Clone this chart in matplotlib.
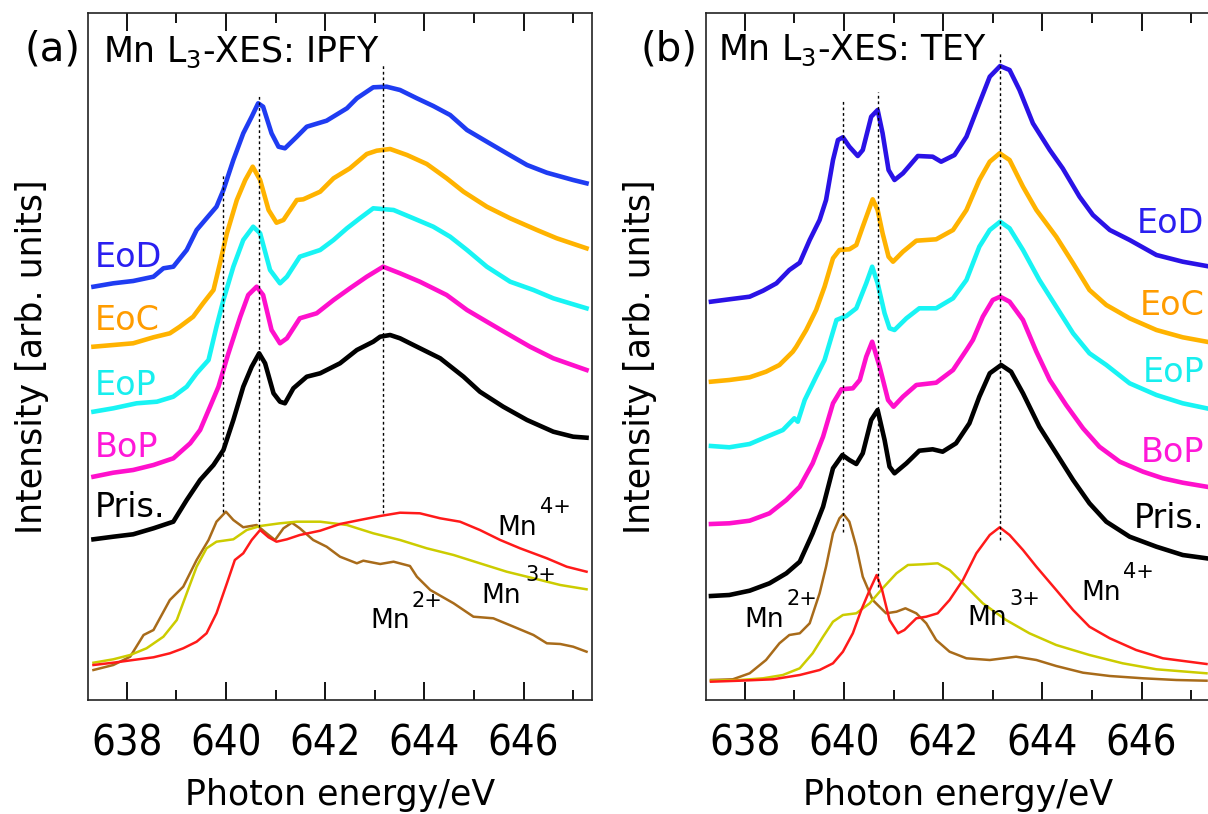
import numpy as np
import matplotlib.pyplot as plt
from matplotlib import font_manager
from matplotlib.ticker import MultipleLocator

# ---------------- panel (a): Mn L3-XES, IPFY ----------------
a_eod_x = [637.33, 637.73, 638.13, 638.54, 638.74, 638.94, 639.21, 639.41, 639.61, 639.81, 639.95, 640.15,
           640.35, 640.52, 640.65, 640.75, 640.92, 641.06, 641.19, 641.43, 641.63, 642.03, 642.44, 642.64,
           642.97, 643.24, 643.51, 643.85, 644.18, 644.52, 644.86, 645.26, 645.66, 646.07, 646.47, 647.00, 647.27]
a_eod_y = [413.3, 416.7, 419, 423.3, 431.7, 433.3, 450, 470, 481.7, 493.3, 510, 540,
           566.7, 583.3, 596.7, 593.3, 566.7, 553.3, 551.7, 563.3, 573.3, 579.3, 591.7, 601.7,
           612.7, 613.3, 610, 601.7, 594, 585, 570, 558.3, 546.7, 535, 527.3, 520, 516.7]

a_eoc_x = [637.33, 637.73, 638.13, 638.54, 638.87, 639.07, 639.34, 639.54, 639.75, 639.88, 640.02, 640.22,
           640.39, 640.54, 640.69, 640.86, 641.02, 641.16, 641.43, 641.56, 641.90, 642.17, 642.50, 642.84,
           643.04, 643.31, 643.65, 644.05, 644.45, 644.79, 645.26, 645.73, 646.27, 646.67, 647.27]
a_eoc_y = [353.3, 355, 356.7, 362.7, 366.7, 373.3, 383.3, 396.7, 410, 436.7, 466.7, 500,
           520, 533.3, 520, 490, 477.3, 480, 500, 500.7, 508.3, 521.7, 531.7, 546,
           549.3, 551, 545, 536, 521.7, 508.3, 493.3, 481.7, 470, 461.7, 451.7]

a_eop_x = [637.33, 637.73, 638.20, 638.61, 638.94, 639.21, 639.41, 639.65, 639.81, 639.95, 640.15, 640.35,
           640.55, 640.69, 640.89, 641.09, 641.23, 641.49, 641.90, 642.17, 642.44, 642.70, 642.97, 643.38,
           643.78, 644.18, 644.52, 644.86, 645.26, 645.73, 646.20, 646.60, 647.27]
a_eop_y = [288.3, 291.7, 296.7, 298.3, 303.3, 313.3, 326.7, 340, 373.3, 400, 433.3, 460,
           473.3, 466.7, 430, 416.7, 423.3, 443.3, 450, 460, 471.7, 481.7, 491.7, 490,
           481.7, 473.3, 463.3, 450, 433.3, 418.3, 410, 401.7, 391.7]

a_bop_x = [637.33, 637.73, 638.13, 638.54, 638.94, 639.28, 639.48, 639.68, 639.85, 640.04, 640.29, 640.45,
           640.62, 640.75, 640.92, 641.09, 641.23, 641.49, 641.83, 642.17, 642.50, 642.84, 643.17, 643.51,
           643.91, 644.45, 644.86, 645.26, 645.66, 646.13, 646.60, 647.27]
a_bop_y = [223.3, 227.3, 230, 235, 241.7, 256.7, 270, 293.3, 313.3, 345, 383.3, 405,
           413.3, 405, 370, 356.7, 361.7, 381.7, 386.7, 400, 411.7, 423.3, 433.3, 426.7,
           418.3, 405, 390, 378.3, 366.7, 353.3, 341.7, 330]

a_pris_x = [637.33, 637.73, 638.13, 638.54, 638.94, 639.21, 639.48, 639.75, 639.95, 640.15, 640.35, 640.52,
            640.67, 640.79, 640.96, 641.09, 641.19, 641.36, 641.63, 641.90, 642.30, 642.64, 642.97, 643.11,
            643.31, 643.51, 643.78, 644.32, 644.79, 645.12, 645.59, 646.07, 646.60, 647.00, 647.27]
a_pris_y = [160.7, 163.3, 165.7, 171.7, 178.3, 200, 220, 235, 250, 280, 313.3, 333.3,
            346.7, 336.7, 306.7, 298.3, 296.7, 311.7, 323.3, 326.7, 336.7, 350, 358.3, 363.3,
            365, 361.7, 355, 341.7, 323.3, 308.3, 293.3, 280, 268.3, 263.3, 262.3]

a_mn2_x = [637.33, 637.73, 638.07, 638.34, 638.54, 638.87, 639.14, 639.41, 639.65, 639.81, 640.00, 640.15,
           640.35, 640.62, 640.82, 640.99, 641.16, 641.33, 641.49, 641.76, 642.03, 642.30, 642.64, 642.77,
           643.11, 643.38, 643.71, 643.85, 644.12, 644.59, 644.99, 645.39, 645.80, 646.20, 646.47, 646.74,
           647.00, 647.27]
a_mn2_y = [30, 35, 43.3, 65, 70, 100, 113.3, 140, 160, 178.3, 188.3, 180,
           172.7, 175, 166.7, 160, 171.7, 177.3, 171.7, 160, 153.3, 143.3, 136.7, 139.3,
           136, 138.3, 134, 123.3, 110, 96.7, 83.3, 81.7, 73.3, 65, 56.7, 56,
           53.3, 48.3]

a_mn3_x = [637.33, 637.73, 638.07, 638.40, 638.74, 639.01, 639.21, 639.41, 639.61, 639.81, 640.15, 640.42,
           640.69, 641.09, 641.43, 641.90, 642.44, 642.97, 643.51, 644.05, 644.59, 645.12, 645.66, 646.20,
           646.74, 647.27]
a_mn3_y = [37.3, 40.7, 45, 51.7, 63.3, 80, 106.7, 133.3, 151.7, 158.3, 160.7, 170,
           174, 176.7, 178.3, 178.3, 175, 166.7, 160, 151.7, 145, 136.7, 128.3, 121.7,
           115, 110.7]

a_mn4_x = [637.33, 637.73, 638.13, 638.54, 638.87, 639.14, 639.41, 639.61, 639.81, 640.02, 640.18, 640.35,
           640.52, 640.69, 640.86, 641.02, 641.23, 641.49, 641.90, 642.30, 642.70, 643.11, 643.51, 643.91,
           644.32, 644.72, 645.12, 645.53, 645.93, 646.47, 646.87, 647.27]
a_mn4_y = [35, 37.3, 40, 42.7, 46.7, 51.7, 58.3, 66.7, 86.7, 116.7, 140, 146.7,
           160, 170, 162.7, 158.3, 160.7, 165, 169.3, 176, 180, 184, 187.3, 186.7,
           181.7, 178.3, 170, 160, 151.7, 141.7, 133.3, 128.3]

# dotted guides (energy, y from, y to)
a_guides = [(639.95, 188.3, 525), (640.67, 173.3, 605), (643.16, 186.7, 635)]

# ---------------- panel (b): Mn L3-XES, TEY ----------------
b_eod_x = [637.32, 637.69, 638.10, 638.37, 638.64, 638.90, 639.11, 639.31, 639.51, 639.64, 639.78, 639.88,
           639.98, 640.11, 640.28, 640.38, 640.55, 640.68, 640.78, 640.90, 641.02, 641.19, 641.49, 641.79,
           641.96, 642.23, 642.47, 642.73, 642.94, 643.15, 643.34, 643.54, 643.81, 644.15, 644.41, 644.75,
           645.02, 645.36, 645.76, 646.30, 646.83, 647.31]
b_eod_y = [398.3, 400.7, 403.3, 409.3, 416.7, 430, 437.3, 460, 480, 500, 540, 560,
           562.7, 553.3, 544, 550, 583.3, 590, 566.7, 530, 520, 526.7, 544, 543.3,
           538.3, 545, 563.3, 596.7, 623.3, 634, 630, 610, 576.7, 550, 531.7, 503.3,
           485, 470, 460, 445, 438.3, 434]

b_eoc_x = [637.32, 637.69, 638.10, 638.43, 638.70, 638.97, 639.04, 639.24, 639.44, 639.61, 639.78, 639.91,
           640.11, 640.25, 640.38, 640.58, 640.68, 640.78, 640.90, 640.99, 641.19, 641.46, 641.86, 642.20,
           642.47, 642.73, 642.94, 643.14, 643.34, 643.61, 643.88, 644.28, 644.62, 644.95, 645.29, 645.76,
           646.30, 646.83, 647.31]
b_eoc_y = [318.3, 320, 322.7, 328.3, 335, 348.3, 353.3, 370, 390, 413.3, 441.7, 450,
           450.7, 455, 473.3, 500.7, 490, 466.7, 443.3, 438.3, 448.3, 459.3, 460.7, 470,
           490, 520, 538.3, 546.7, 540, 513.3, 490, 463.3, 436.7, 410, 395, 381.7,
           370, 362.7, 358.3]

b_eop_x = [637.32, 637.69, 638.10, 638.37, 638.77, 639.00, 639.07, 639.21, 639.44, 639.61, 639.85, 640.05,
           640.25, 640.45, 640.57, 640.68, 640.82, 640.92, 641.02, 641.26, 641.52, 641.86, 642.20, 642.47,
           642.73, 642.94, 643.15, 643.34, 643.61, 643.94, 644.28, 644.62, 644.95, 645.29, 645.76, 646.30,
           646.83, 647.31]
b_eop_y = [254, 252.7, 256, 261.7, 270, 281.7, 278.3, 300, 323.3, 340, 380, 384,
           391.7, 416.7, 433.3, 416.7, 386.7, 371.7, 370, 381.7, 391.7, 391.7, 401.7, 420,
           453.3, 470, 478.3, 471.7, 450, 420, 393.3, 366.7, 346.7, 335, 316.7, 305,
           296.7, 291.7]

b_bop_x = [637.32, 637.69, 638.10, 638.50, 638.84, 639.11, 639.37, 639.58, 639.78, 639.95, 640.18, 640.32,
           640.45, 640.57, 640.72, 640.89, 641.00, 641.19, 641.46, 641.86, 642.20, 642.47, 642.60, 642.80,
           643.00, 643.15, 643.34, 643.61, 643.88, 644.15, 644.48, 644.82, 645.15, 645.56, 646.03, 646.43,
           646.83, 647.31]
b_bop_y = [176, 176.7, 179.3, 186.7, 200, 213.3, 236.7, 263.3, 296.7, 310.7, 311.7, 320,
           343.3, 358.3, 333.3, 300, 293.3, 303.3, 315, 317.3, 330, 350, 360, 383.3,
           400, 403.3, 398.3, 380, 348.3, 320, 295, 271.7, 253.3, 238.3, 228.3, 221.7,
           217.3, 213.3]

b_pris_x = [637.32, 637.69, 638.10, 638.50, 638.84, 639.11, 639.37, 639.58, 639.78, 639.97, 640.11, 640.25,
            640.38, 640.55, 640.68, 640.82, 640.92, 641.02, 641.26, 641.52, 641.79, 641.99, 642.26, 642.53,
            642.73, 642.94, 643.17, 643.37, 643.61, 643.94, 644.28, 644.62, 644.95, 645.29, 645.76, 646.30,
            646.83, 647.31]
b_pris_y = [104, 105, 109.3, 116.7, 126.7, 138.3, 166.7, 193.3, 231.7, 245, 240, 236,
            246.7, 280, 290, 260, 233.3, 226.7, 236.7, 249.3, 250.7, 248.3, 256.7, 276.7,
            303.3, 326.7, 335, 328.3, 306.7, 273.3, 246.7, 220, 196.7, 178.3, 163.3, 153.3,
            145, 141.7]

b_mn2_x = [637.32, 637.76, 638.10, 638.43, 638.70, 638.90, 639.11, 639.31, 639.51, 639.64, 639.78, 639.91,
           639.99, 640.11, 640.25, 640.38, 640.58, 640.85, 641.06, 641.24, 641.46, 641.66, 641.86, 642.13,
           642.47, 642.94, 643.47, 643.88, 644.28, 644.82, 645.36, 646.03, 646.70, 647.31]
b_mn2_y = [20, 20.7, 26.7, 40, 56.7, 65, 66.7, 76.7, 106.7, 133.3, 166.7, 181.7,
           186, 178.3, 153.3, 123.3, 100, 86.7, 88.3, 91.7, 86.7, 76.7, 60, 48.3,
           41.7, 40, 43.3, 40, 34, 27.3, 24, 21.7, 20, 19.3]

b_mn3_x = [637.32, 637.90, 638.37, 638.77, 639.11, 639.37, 639.58, 639.78, 639.98, 640.25, 640.52, 640.78,
           641.06, 641.29, 641.59, 641.89, 642.13, 642.40, 642.80, 643.27, 643.74, 644.28, 644.95, 645.62,
           646.30, 647.31]
b_mn3_y = [19.3, 20, 21.7, 25, 31.7, 46.7, 63.3, 78.3, 85, 86.7, 96.7, 111.7,
           126.7, 135, 135.7, 136.7, 130, 116.7, 96.7, 80, 66.7, 55, 45, 36.7,
           30.7, 26.7]

b_mn4_x = [637.32, 637.90, 638.57, 639.11, 639.51, 639.78, 639.98, 640.18, 640.35, 640.52, 640.66, 640.77,
           640.92, 641.09, 641.22, 641.46, 641.66, 641.89, 642.13, 642.40, 642.67, 642.94, 643.14, 643.34,
           643.61, 643.88, 644.28, 644.62, 644.95, 645.36, 645.89, 646.43, 647.31]
b_mn4_y = [18.3, 19.3, 20.7, 25, 30, 36.7, 48.3, 66.7, 90, 110, 125, 110,
           80, 66.7, 70, 81.7, 83.3, 86.7, 100, 120, 146.7, 165, 172.7, 165,
           150, 133.3, 110, 90, 73.3, 61.7, 50, 41.7, 36]

b_guides = [(639.98, 168.3, 600), (640.68, 113.3, 608), (643.15, 160, 647)]

sample_names = ['EoD', 'EoC', 'EoP', 'BoP', 'Pris.']

# ---------------- style ----------------
fonts = font_manager.fontManager.ttflist
names = {f.name for f in fonts}
tick_stretch = 'normal'
if 'Liberation Sans Narrow' in names:
    tick_font, tick_size = 'Liberation Sans Narrow', 36
elif any(f.name == 'DejaVu Sans' and f.stretch == 'condensed' for f in fonts):
    tick_font, tick_size, tick_stretch = 'DejaVu Sans', 30, 'condensed'
else:
    tick_font, tick_size = 'DejaVu Sans', 27

plt.rcParams['font.family'] = ['DejaVu Sans']
plt.rcParams['mathtext.default'] = 'regular'

fig = plt.figure(figsize=(12.08, 8.14), dpi=100)

W, H = 1208.0, 814.0
ax_a = fig.add_axes([88 / W, 1 - 700 / H, 504 / W, 687 / H])
ax_b = fig.add_axes([706 / W, 1 - 700 / H, 504 / W, 687 / H])


def setup(ax):
    ax.set_xlim(637.22, 647.38)
    ax.set_ylim(0, 687)
    ax.xaxis.set_major_locator(MultipleLocator(2))
    ax.xaxis.set_minor_locator(MultipleLocator(1))
    ax.tick_params(axis='x', which='both', direction='in', top=True, bottom=True, width=1.3, pad=16)
    ax.tick_params(axis='x', which='major', length=13)
    ax.tick_params(axis='x', which='minor', length=7)
    ax.set_yticks([])
    for lab in ax.get_xticklabels():
        lab.set_fontfamily(tick_font)
        lab.set_fontsize(tick_size)
        lab.set_fontstretch(tick_stretch)
    for sp in ax.spines.values():
        sp.set_linewidth(1.2)
        sp.set_color('#222222')


def draw(ax, spectra, refs, guides, spec_colors, ref_colors):
    for (x, y), c in zip(spectra, spec_colors):
        ax.plot(x, y, color=c, lw=3.3, solid_joinstyle='round', zorder=2)
    for (x, y), c in zip(refs, ref_colors):
        ax.plot(x, y, color=c, lw=1.8, zorder=2)
    for e, y0, y1 in guides:
        ax.plot([e, e], [y0, y1], color='black', lw=1.0, ls=(0, (2, 2)), zorder=3)


setup(ax_a)
setup(ax_b)

spec_cols_a = ['#1f3cf2', '#ffb300', '#18f4f4', '#ff10cc', '#000000']
spec_cols_b = ['#2a12e6', '#ffb300', '#18f4f4', '#ff10cc', '#000000']
text_cols = ['#2a1ff0', '#ff9c00', '#18eeee', '#ff18d8', '#000000']
ref_cols = ['#a86b1a', '#cccc00', '#ff1a1a']

draw(ax_a,
     [(a_eod_x, a_eod_y), (a_eoc_x, a_eoc_y), (a_eop_x, a_eop_y), (a_bop_x, a_bop_y), (a_pris_x, a_pris_y)],
     [(a_mn2_x, a_mn2_y), (a_mn3_x, a_mn3_y), (a_mn4_x, a_mn4_y)],
     a_guides, spec_cols_a, ref_cols)
draw(ax_b,
     [(b_eod_x, b_eod_y), (b_eoc_x, b_eoc_y), (b_eop_x, b_eop_y), (b_bop_x, b_bop_y), (b_pris_x, b_pris_y)],
     [(b_mn2_x, b_mn2_y), (b_mn3_x, b_mn3_y), (b_mn4_x, b_mn4_y)],
     b_guides, spec_cols_b, ref_cols)

# sample labels
a_lab_y = [433.3, 370, 305, 243.3, 183.3]
b_lab_y = [466.7, 385, 318.3, 238.3, 171.7]
for name, c, ya, yb in zip(sample_names, text_cols, a_lab_y, b_lab_y):
    ax_a.text(637.36, ya, name, color=c, fontsize=24, ha='left', va='baseline')
    ax_b.text(647.27, yb, name, color=c, fontsize=24, ha='right', va='baseline')

# titles in panels
ax_a.text(0.030, 0.929, 'Mn L$_3$-XES: IPFY', transform=ax_a.transAxes, fontsize=25, va='baseline')
ax_b.text(0.024, 0.932, 'Mn L$_3$-XES: TEY', transform=ax_b.transAxes, fontsize=25, va='baseline')


# reference labels
def mn_label(ax, x, y, xs, ys, charge):
    ax.text(x, y, 'Mn', fontsize=19, va='baseline')
    ax.text(xs, ys, charge, fontsize=15, va='baseline')


mn_label(ax_a, 645.47, 165, 646.33, 186.7, '4+')
mn_label(ax_a, 645.16, 97, 646.03, 119.3, '3+')
mn_label(ax_a, 642.91, 72, 643.75, 93.3, '2+')
mn_label(ax_b, 638.00, 73, 638.84, 95, '2+')
mn_label(ax_b, 642.49, 75, 643.34, 95, '3+')
mn_label(ax_b, 644.79, 100, 645.62, 121.7, '4+')

# axis labels and panel letters
for xc in [340, 958]:
    fig.text(xc / W, 1 - 805 / H, 'Photon energy/eV', fontsize=25, ha='center', va='baseline')
fig.text(32 / W, 1 - 357 / H, 'Intensity [arb. units]', fontsize=25, rotation=90, ha='center', va='center')
fig.text(640 / W, 1 - 357 / H, 'Intensity [arb. units]', fontsize=25, rotation=90, ha='center', va='center')
fig.text(80 / W, 1 - 50 / H, '(a)', fontsize=29, ha='right', va='center')
fig.text(697 / W, 1 - 50 / H, '(b)', fontsize=29, ha='right', va='center')

plt.savefig('out.png', dpi=100)
